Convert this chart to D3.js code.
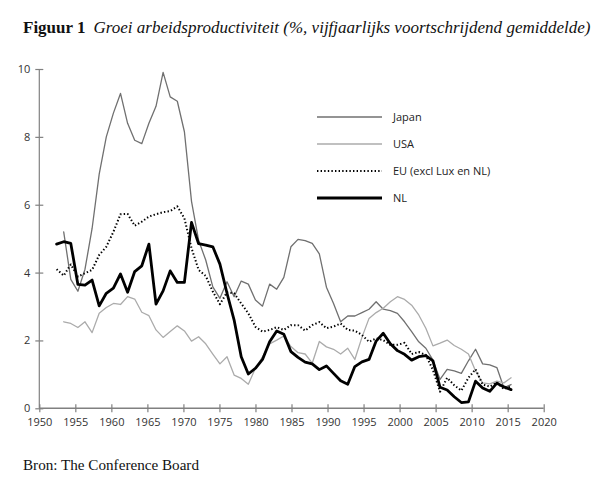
<!DOCTYPE html>
<html><head><meta charset="utf-8">
<script src="https://cdn.jsdelivr.net/npm/d3@7"></script>
<style>
body{margin:0;background:#fff;}
svg{display:block;}
</style></head>
<body><svg id="c" width="600" height="492"></svg>
<script>
const yearsNL = d3.range(1952, 2017);
const yearsJP = d3.range(1953, 2017);
const japan = [5.2,3.8,3.45,4.1,5.3,6.9,8.0,8.7,9.28,8.4,7.9,7.8,8.4,8.9,9.9,9.18,9.05,8.15,6.1,4.95,4.37,3.58,3.24,3.73,3.29,3.75,3.66,3.19,3.01,3.66,3.51,3.86,4.76,4.98,4.94,4.86,4.55,3.57,3.09,2.55,2.72,2.72,2.82,2.92,3.14,2.92,2.88,2.8,2.55,2.26,1.96,1.77,1.42,0.85,1.15,1.1,1.03,1.4,1.74,1.31,1.28,1.2,0.6,0.7];
const usa = [2.55,2.5,2.38,2.55,2.23,2.8,2.97,3.09,3.06,3.29,3.22,2.83,2.73,2.31,2.09,2.26,2.43,2.28,1.98,2.11,1.9,1.6,1.31,1.52,0.98,0.88,0.71,1.18,1.52,1.9,2.01,2.13,1.82,1.64,1.6,1.33,1.97,1.81,1.74,1.6,1.77,1.44,2.09,2.65,2.82,2.95,3.14,3.29,3.21,3.04,2.75,2.36,1.84,1.92,2.01,1.85,1.74,1.6,1.1,0.75,0.72,0.8,0.75,0.9];
const eu = [4.1,3.91,4.24,3.88,3.98,4.08,4.52,4.76,5.2,5.72,5.73,5.38,5.5,5.65,5.72,5.78,5.81,5.95,5.6,4.72,4.08,3.9,3.44,3.07,3.42,3.39,3.09,2.8,2.4,2.26,2.31,2.39,2.31,2.45,2.45,2.29,2.45,2.54,2.36,2.41,2.5,2.31,2.29,2.16,1.96,2.06,2.01,1.87,1.87,1.93,1.6,1.66,1.57,1.13,0.49,0.9,0.68,0.52,0.9,1.15,0.7,0.64,0.76,0.57,0.65];
const nl = [4.84,4.91,4.86,3.65,3.63,3.78,3.02,3.39,3.54,3.96,3.42,4.03,4.2,4.84,3.07,3.46,4.05,3.71,3.71,5.48,4.85,4.81,4.76,4.25,3.39,2.6,1.52,1.01,1.18,1.44,1.96,2.28,2.18,1.67,1.5,1.36,1.31,1.14,1.25,1.03,0.81,0.71,1.23,1.37,1.44,1.98,2.21,1.9,1.7,1.59,1.42,1.52,1.55,1.4,0.62,0.54,0.34,0.17,0.19,0.8,0.6,0.5,0.74,0.63,0.55];
const xTicks = d3.range(1950, 2021, 5);
const yTicks = [0,2,4,6,8,10];
const seriesNames = ["Japan","USA","EU (excl Lux en NL)","NL"];

const series = [
  {name: seriesNames[0], years: yearsJP, values: japan, color: "#707070", width: 1.3, dash: null},
  {name: seriesNames[1], years: yearsJP, values: usa, color: "#ababab", width: 1.3, dash: null},
  {name: seriesNames[2], years: yearsNL, values: eu, color: "#000", width: 2, dash: "1.4,2.2"},
  {name: seriesNames[3], years: yearsNL, values: nl, color: "#000", width: 2.8, dash: null}
];

const svg = d3.select("#c");
const x = d3.scaleLinear().domain([1950, 2020]).range([39.3, 543.7]);
const y = d3.scaleLinear().domain([0, 10]).range([408.3, 69]);
// series are plotted on a slightly offset year grid, as in the source chart
const xd = d3.scaleLinear().domain([1952, 2016]).range([x(1952.4), x(2015.47)]);

const font = "'Open Sans', sans-serif";
const axisColor = "#808080";

// y axis
const gy = svg.append("g").attr("transform", `translate(${x(1950)},0)`)
  .call(d3.axisLeft(y).tickValues(yTicks).tickSize(4).tickFormat(d3.format("d")));
gy.select(".domain").remove();
gy.selectAll(".tick line").attr("x2", 4).attr("x1", -4).attr("stroke", axisColor).attr("stroke-width", 1.2);
gy.selectAll(".tick text").attr("x", -9).attr("font-family", font).attr("font-size", 11).attr("fill", "#333");
svg.append("line").attr("x1", x(1950)).attr("x2", x(1950)).attr("y1", y(10)).attr("y2", y(0))
  .attr("stroke", axisColor).attr("stroke-width", 1.2);

// x axis
const gx = svg.append("g").attr("transform", `translate(0,${y(0)})`)
  .call(d3.axisBottom(x).tickValues(xTicks).tickSize(4).tickFormat(d3.format("d")));
gx.select(".domain").remove();
gx.selectAll(".tick line").attr("y1", -4).attr("y2", 4).attr("stroke", axisColor).attr("stroke-width", 1.2);
gx.selectAll(".tick text").attr("y", 10).attr("font-family", font).attr("font-size", 11).attr("fill", "#333");
svg.append("line").attr("x1", x(1950)).attr("x2", x(2020)).attr("y1", y(0)).attr("y2", y(0))
  .attr("stroke", axisColor).attr("stroke-width", 1.6);

// lines
const line = d3.line().x(d => xd(d[0])).y(d => y(d[1]));
series.forEach(s => {
  svg.append("path")
    .datum(s.years.map((yr, i) => [yr, s.values[i]]))
    .attr("d", line)
    .attr("fill", "none")
    .attr("stroke", s.color)
    .attr("stroke-width", s.width)
    .attr("stroke-dasharray", s.dash)
    .attr("stroke-linejoin", "round")
    .attr("stroke-linecap", s.dash ? "butt" : "round");
});

// legend
const lg = svg.append("g").attr("transform", "translate(317,117)");
series.forEach((s, i) => {
  const g = lg.append("g").attr("transform", `translate(0,${i * 27})`);
  g.append("line").attr("x1", 0).attr("x2", 65).attr("y1", 0).attr("y2", 0)
    .attr("stroke", s.color).attr("stroke-width", s.width).attr("stroke-dasharray", s.dash);
  g.append("text").attr("x", 76).attr("y", 0).attr("dy", "0.35em")
    .attr("font-family", font).attr("font-size", 11).attr("fill", "#222").text(s.name);
});

// title
const t = svg.append("text").attr("x", 23).attr("y", 33)
  .attr("font-family", "'Liberation Serif', 'DejaVu Serif', serif").attr("font-size", 17).attr("fill", "#111");
t.append("tspan").attr("font-weight", "bold").text("Figuur 1");
t.append("tspan").attr("dx", 8).attr("font-style", "italic")
  .attr("textLength", 497).attr("lengthAdjust", "spacingAndGlyphs")
  .text("Groei arbeidsproductiviteit (%, vijfjaarlijks voortschrijdend gemiddelde)");

svg.append("text").attr("x", 23).attr("y", 470)
  .attr("font-family", "'Liberation Serif', 'DejaVu Serif', serif").attr("font-size", 15).attr("fill", "#111")
  .attr("textLength", 176).attr("lengthAdjust", "spacingAndGlyphs")
  .text("Bron: The Conference Board");
</script></body></html>
